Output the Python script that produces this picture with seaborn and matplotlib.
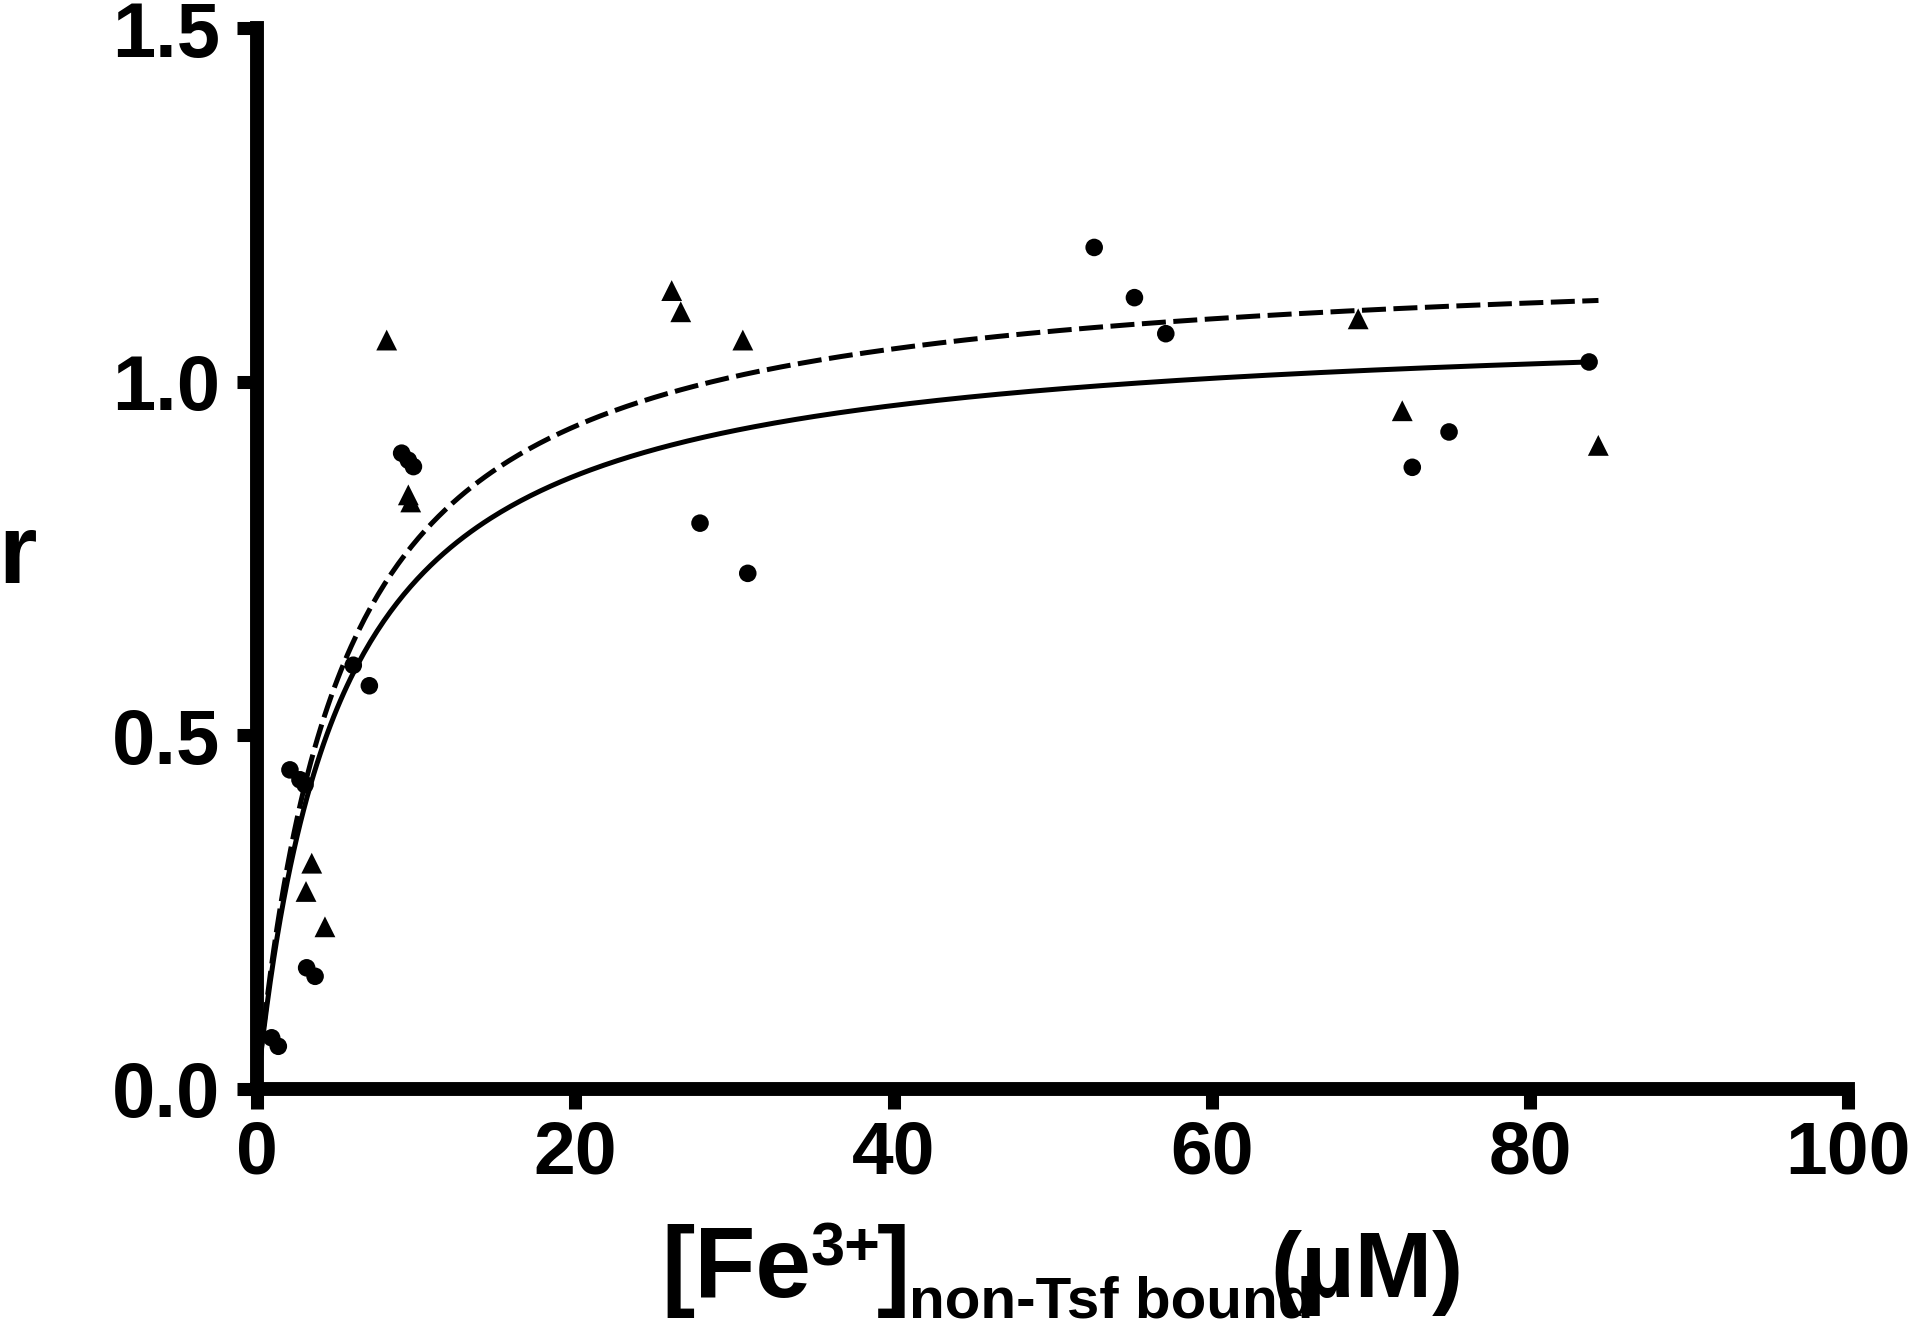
import matplotlib
matplotlib.use("Agg")
import matplotlib.pyplot as plt
import seaborn as sns
import numpy as np
import pandas as pd

# ---------------- data ----------------
circle_x = [0.92, 1.34, 2.07, 2.70, 3.02, 3.12, 3.65, 6.05, 7.06, 9.09, 9.51, 9.83,
            27.84, 30.84, 52.61, 55.14, 57.11, 72.60, 74.91, 83.71]
circle_y = [0.072, 0.060, 0.451, 0.437, 0.430, 0.171, 0.159, 0.599, 0.570, 0.899, 0.889, 0.880,
            0.800, 0.729, 1.190, 1.119, 1.068, 0.879, 0.929, 1.028]

triangle_x = [3.08, 3.44, 4.27, 8.15, 9.51, 9.66, 26.06, 26.63, 30.53, 69.2, 71.97, 84.29]
triangle_y = [0.279, 0.319, 0.229, 1.059, 0.840, 0.830, 1.129, 1.099, 1.059, 1.089, 0.959, 0.910]

# one-site binding fits (Bmax, Kd, x range)
solid_bmax, solid_kd, solid_xmax = 1.0916, 5.18, 83.7
dashed_bmax, dashed_kd, dashed_xmax = 1.185, 5.29, 84.3

x_ticks = [0, 20, 40, 60, 80, 100]
x_tick_labels = ["0", "20", "40", "60", "80", "100"]
y_ticks = [0.0, 0.5, 1.0, 1.5]
y_tick_labels = ["0.0", "0.5", "1.0", "1.5"]

# ---------------- style ----------------
sns.set_style("ticks")
FAM = ["Liberation Sans", "DejaVu Sans"]
plt.rcParams["font.family"] = FAM
plt.rcParams["font.weight"] = "bold"
plt.rcParams["text.color"] = "black"
plt.rcParams["axes.labelcolor"] = "black"
plt.rcParams["xtick.color"] = "black"
plt.rcParams["ytick.color"] = "black"

W, H = 1911, 1331
fig = plt.figure(figsize=(W / 100, H / 100), dpi=100)
ax = fig.add_axes([257 / W, 1 - 1088.7 / H, (1848.3 - 257) / W, (1088.7 - 28.3) / H])

# fitted curves
xs_s = np.linspace(0, solid_xmax, 400)
xs_d = np.linspace(0, dashed_xmax, 400)
curve_s = pd.DataFrame({"x": xs_s, "y": solid_bmax * xs_s / (solid_kd + xs_s)})
curve_d = pd.DataFrame({"x": xs_d, "y": dashed_bmax * xs_d / (dashed_kd + xs_d)})

sns.lineplot(data=curve_s, x="x", y="y", ax=ax, color="black", linewidth=3.6,
             estimator=None, sort=False)
sns.lineplot(data=curve_d, x="x", y="y", ax=ax, color="black", linewidth=3.6,
             estimator=None, sort=False)
ax.lines[-1].set_dashes((4.8, 1.5))

pts_c = pd.DataFrame({"x": circle_x, "y": circle_y})
pts_t = pd.DataFrame({"x": triangle_x, "y": triangle_y})
sns.scatterplot(data=pts_c, x="x", y="y", ax=ax, marker="o", s=160, color="black",
                edgecolor="none", zorder=3)
sns.scatterplot(data=pts_t, x="x", y="y", ax=ax, marker="^", s=225, color="black",
                edgecolor="none", zorder=3)

ax.set_xlim(0, 100)
ax.set_ylim(0, 1.5)
ax.set_xticks(x_ticks)
ax.set_xticklabels(x_tick_labels)
ax.set_yticks(y_ticks)
ax.set_yticklabels(y_tick_labels)
ax.set_xlabel("")
ax.set_ylabel("")

for s in ["top", "right"]:
    ax.spines[s].set_visible(False)
for s in ["left", "bottom"]:
    ax.spines[s].set_linewidth(10)
    ax.spines[s].set_capstyle("projecting")
    ax.spines[s].set_color("black")

ax.tick_params(axis="both", direction="out", length=14.2, width=9.4, color="black",
               labelcolor="black")
ax.tick_params(axis="y", pad=12, labelsize=56)
ax.tick_params(axis="x", pad=8, labelsize=54)
for lab in ax.get_xticklabels() + ax.get_yticklabels():
    lab.set_fontweight("bold")
    lab.set_color("black")

# y label
fig.text(-2 / W, 1 - 583 / H, "r", fontsize=71, fontweight="bold", family=FAM,
         ha="left", va="baseline", color="black")

# x label pieces: [Fe3+]non-Tsf bound(µM)
def ptext(x, y, s, size):
    fig.text(x / W, 1 - y / H, s, fontsize=size, fontweight="bold", family=FAM,
             ha="left", va="baseline", color="black")

ptext(661.5, 1297, "[Fe", 72)
ptext(811, 1266, "3+", 44)
ptext(877, 1297, "]", 72)
ptext(909, 1318, "non-Tsf bound", 42)
ptext(1270, 1297, "(µM)", 67)

fig.savefig("out.png", dpi=100)
